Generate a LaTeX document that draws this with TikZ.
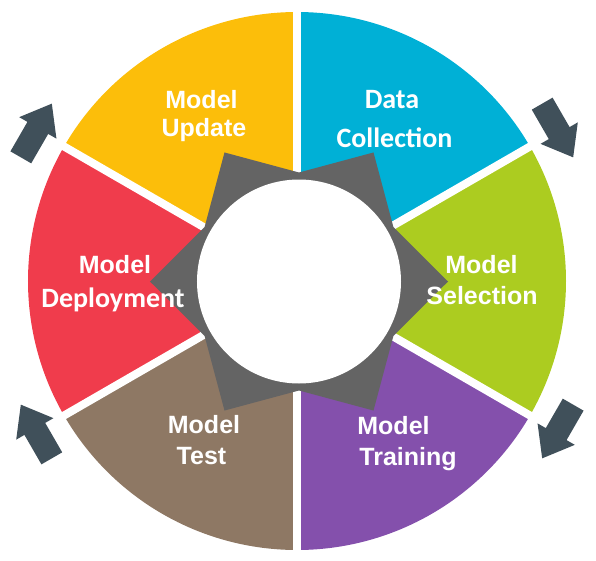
\documentclass[tikz,border=0pt]{standalone}
\usepackage{fontspec}
\setmainfont{Liberation Sans}
\newfontfamily\calfont{Carlito}
\usepackage{xcolor}
\definecolor{updyellow}{RGB}{252,190,10}
\definecolor{colcyan}{RGB}{0,176,214}
\definecolor{selgreen}{RGB}{172,204,32}
\definecolor{trapurple}{RGB}{132,80,172}
\definecolor{tstbrown}{RGB}{142,120,100}
\definecolor{depred}{RGB}{240,60,76}
\definecolor{geargray}{RGB}{100,100,100}
\definecolor{loopslate}{RGB}{64,80,90}

\begin{document}
\begin{tikzpicture}[x=1pt, y=1pt,
		seclabel/.style={text=white, font=\fontsize{25}{30}\selectfont\bfseries, anchor=base, inner sep=0pt},
		callabel/.style={seclabel, font=\fontsize{28}{30}\selectfont\calfont\bfseries},
		gapline/.style={white, line width=8pt},
		cyclearrow/.style={fill=loopslate}]
				\useasboundingbox (-297,-279) rectangle (299,281);
				% sectors
				\fill[colcyan] (0,0) -- (90:269pt) arc[start angle=90, end angle=30, radius=269pt] -- cycle;
				\fill[selgreen] (0,0) -- (30:269pt) arc[start angle=30, end angle=-30, radius=269pt] -- cycle;
				\fill[trapurple] (0,0) -- (-30:269pt) arc[start angle=-30, end angle=-90, radius=269pt] -- cycle;
				\fill[tstbrown] (0,0) -- (-90:269pt) arc[start angle=-90, end angle=-150, radius=269pt] -- cycle;
				\fill[depred] (0,0) -- (-150:269pt) arc[start angle=-150, end angle=-210, radius=269pt] -- cycle;
				\fill[updyellow] (0,0) -- (150:269pt) arc[start angle=150, end angle=90, radius=269pt] -- cycle;
				\foreach \a in {90,30,-30,-90,-150,150}
					\draw[gapline] (0,0) -- (\a:275pt);
				
				% gear with hole
				\coordinate (hub) at (2,-0.5);
				\fill[geargray, shift={(hub)}] (0:149pt) -- (30:109pt) -- (60:149pt) -- (90:109pt) -- (120:149pt) -- (150:109pt)
					-- (180:149pt) -- (210:109pt) -- (240:149pt) -- (270:109pt) -- (300:149pt) -- (330:109pt) -- cycle;
				\fill[white] (hub) circle[radius=102pt];
				
				% cycle arrows
				\foreach \a in {150,30,-30,-150}
					\fill[cyclearrow, shift={(\a:301pt)}, rotate=\a-90] (-31,12) -- (3,12) -- (3,21.5) -- (31,0) -- (3,-21.5) -- (3,-12) -- (-31,-12) -- cycle;
				
				% labels
				\node[seclabel] (upd1) at (-95.5,173) {Model};
				\node[seclabel] (upd2) at (-93,145) {Update};
				\node[callabel] (col1) at (95,173) {Data};
				\node[callabel] (col2) at (97.5,134) {Collection};
				\node[seclabel] (sel1) at (184.5,8) {Model};
				\node[seclabel] (sel2) at (185,-23) {Selection};
				\node[seclabel] (tra1) at (96.5,-153) {Model};
				\node[seclabel] (tra2) at (111,-184) {Training};
				\node[seclabel] (tst1) at (-93,-152) {Model};
				\node[seclabel] (tst2) at (-95.5,-183) {Test};
				\node[seclabel] (dep1) at (-182,8) {Model};
				\node[callabel] (dep2) at (-184,-26) {Deployment};
			\end{tikzpicture}
\end{document}
